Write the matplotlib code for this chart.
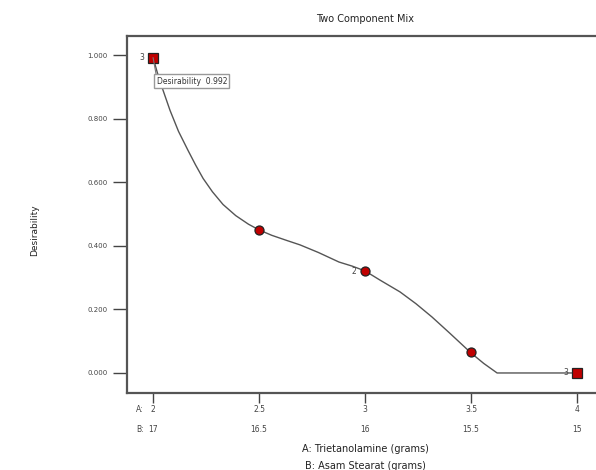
import numpy as np
import matplotlib.pyplot as plt
import matplotlib.transforms as mtransforms

# design points
a_vals = [2, 2.5, 3, 3.5, 4]
b_vals = [17, 16.5, 16, 15.5, 15]
desir = [0.992, 0.45, 0.32, 0.065, 0.0]
point_marker = ["s", "o", "o", "o", "s"]
point_label = ["3", "", "2", "", "3"]

# fitted desirability curve
curve_a = [2.0, 2.02, 2.042, 2.08, 2.12, 2.165, 2.2, 2.236, 2.28, 2.33, 2.39, 2.45, 2.5,
           2.56, 2.63, 2.693, 2.78, 2.877, 2.94, 3.0, 3.071, 3.165, 3.24, 3.316, 3.4,
           3.5, 3.56, 3.623, 4.0]
curve_d = [0.992, 0.945, 0.899, 0.826, 0.76, 0.70, 0.655, 0.612, 0.57, 0.53, 0.495, 0.468, 0.45,
           0.433, 0.417, 0.403, 0.379, 0.349, 0.336, 0.321, 0.292, 0.255, 0.218, 0.176, 0.125,
           0.063, 0.03, 0.0, 0.0]

fig = plt.figure(figsize=(5.96, 4.70), dpi=100)
ax = fig.add_axes([127/596, 77/470, 475/596, (393-36)/470])

ax.plot(curve_a, curve_d, color="#555555", lw=1.0, zorder=2)
for a, d, m, lab in zip(a_vals, desir, point_marker, point_label):
    ms = 6.5 if m == "s" else 6.5
    ax.plot(a, d, marker=m, ms=ms, mfc="#c00000", mec="#222222", mew=0.9,
            ls="none", zorder=3, clip_on=False)
    if lab:
        ax.annotate(lab, (a, d), xytext=(-6, 0), textcoords="offset points",
                    ha="right", va="center", fontsize=5.5, color="#444444")

ax.annotate("Desirability  0.992", (2.0, 0.992), xytext=(2.5, -17),
            textcoords="offset points", ha="left", va="center", fontsize=5.5,
            color="#333333",
            bbox=dict(boxstyle="square,pad=0.3", fc="white", ec="#999999", lw=1),
            arrowprops=dict(arrowstyle="-", color="#777777", lw=0.8,
                            shrinkA=0, shrinkB=0, relpos=(0.0, 1.0)))

ax.set_xlim(1.877, 4.0 + 25/212)
ax.set_ylim(-0.063, 1.06)
ax.set_xticks(a_vals)
ax.set_xticklabels([("%g" % a) for a in a_vals])
ax.set_yticks([0, 0.2, 0.4, 0.6, 0.8, 1.0])
ax.set_yticklabels(["0.000", "0.200", "0.400", "0.600", "0.800", "1.000"])
ax.tick_params(axis="y", direction="out", length=10, width=1, color="#444444",
               labelsize=5, labelcolor="#444444", pad=4)
ax.tick_params(axis="x", direction="out", length=7, width=1, color="#444444",
               labelsize=5.5, labelcolor="#444444", pad=2)
for s in ax.spines.values():
    s.set_color("#555555")
    s.set_linewidth(1.6)
ax.spines["right"].set_visible(False)

trans = mtransforms.blended_transform_factory(ax.transData, fig.transFigure)
for a, b in zip(a_vals, b_vals):
    ax.text(a, 1 - 429/470, "%g" % b, ha="center", va="center", fontsize=5.5,
            color="#444444", transform=trans, clip_on=False)
fig.text(136/596, 1 - 409/470, "A:", fontsize=5.5, color="#444444", ha="left", va="center")
fig.text(136/596, 1 - 429/470, "B:", fontsize=5.5, color="#444444", ha="left", va="center")

fig.text(365/596, 1 - 19/470, "Two Component Mix", fontsize=7, color="#222222",
         ha="center", va="center")
fig.text(365/596, 1 - 449/470, "A: Trietanolamine (grams)", fontsize=7,
         color="#222222", ha="center", va="center")
fig.text(365/596, 1 - 466/470, "B: Asam Stearat (grams)", fontsize=7,
         color="#222222", ha="center", va="center")
fig.text(35/596, 1 - 230/470, "Desirability", fontsize=6.5, rotation=90,
         color="#222222", ha="center", va="center", family="Liberation Sans Narrow")

fig.savefig("out.png", dpi=100)
